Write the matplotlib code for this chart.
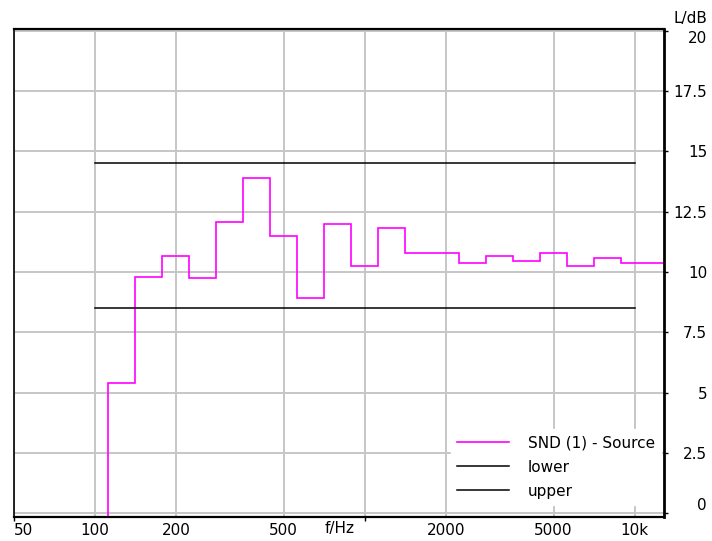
import numpy as np
import matplotlib
matplotlib.use('Agg')
import matplotlib.pyplot as plt

# Terzbaender (Mittenfrequenzen) und Pegel der Quelle
f_mitte = [100, 125, 160, 200, 250, 315, 400, 500, 630, 800, 1000, 1250,
           1600, 2000, 2500, 3150, 4000, 5000, 6300, 8000, 10000, 12500]
L_quelle = [-10, 5.38, 9.81, 10.65, 9.74, 12.06, 13.89, 11.49, 8.92, 11.99, 10.24, 11.84,
            10.80, 10.80, 10.37, 10.66, 10.44, 10.80, 10.24, 10.58, 10.39, 10.39]

# Toleranzgrenzen
f_grenze = [100, 10000]
L_lower = [8.5, 8.5]
L_upper = [14.5, 14.5]

x_ticks = [50, 100, 200, 500, 1000, 2000, 5000, 10000]
x_labels = ['50', '100', '200', '500', '', '2000', '5000', '10k']
y_ticks = [0, 2.5, 5, 7.5, 10, 12.5, 15, 17.5, 20]
y_labels = ['0', '2.5', '5', '7.5', '10', '12.5', '15', '17.5', '20']

plt.rcParams['font.family'] = 'DejaVu Sans'
plt.rcParams['font.size'] = 11

fig = plt.figure(figsize=(7.12, 5.41), dpi=100)
ax = fig.add_axes([0.019, 0.0449, 0.9136, 0.9009])

# Bandgrenzen aus den Mittenfrequenzen (Terz)
idx = np.arange(-10, -10 + len(f_mitte) + 1)
kanten = 1000 * 10 ** ((idx - 0.5) / 10)

ax.stairs(L_quelle, kanten, color='#ff00ff', lw=1.2, baseline=None, label='SND (1) - Source')
ax.plot(f_grenze, L_lower, color='black', lw=1.1, label='lower')
ax.plot(f_grenze, L_upper, color='black', lw=1.1, label='upper')

ax.set_xscale('log')
ax.set_xlim(50, 12830)
ax.set_ylim(-0.14, 20.05)

ax.set_xticks(x_ticks)
ax.set_xticklabels(x_labels)
ax.xaxis.set_minor_locator(matplotlib.ticker.NullLocator())
ax.set_yticks(y_ticks)
ax.set_yticklabels(y_labels)

ax.grid(True, color='#c6c6c6', lw=1.4)
ax.set_axisbelow(True)

ax.tick_params(axis='x', direction='out', length=3, width=1, pad=1.5, colors='black')
ax.tick_params(axis='y', left=False, labelleft=False, right=True, labelright=True,
               direction='out', length=3, width=1, pad=28)
for lab in ax.get_yticklabels():
    lab.set_horizontalalignment('right')

yt = ax.yaxis.get_major_ticks()
yt[0].label2.set_verticalalignment('bottom')
yt[-1].label2.set_verticalalignment('top')

# nur bei 50 und 1000 sichtbare Striche
xt = ax.xaxis.get_major_ticks()
for i, t in enumerate(xt):
    if x_ticks[i] not in (50, 1000):
        t.tick1line.set_visible(False)
xt[0].label1.set_horizontalalignment('left')

for s in ['top', 'bottom']:
    ax.spines[s].set_linewidth(1.6)
ax.spines['left'].set_linewidth(1.2)
ax.spines['right'].set_linewidth(2.0)

ax.text(0.525, -0.008, 'f/Hz', transform=ax.transAxes, ha='right', va='top')
fig.text(0.970, 0.965, 'L/dB', ha='center', va='center')

leg = ax.legend(loc='lower right', bbox_to_anchor=(1.0, 0.018), frameon=True,
                fancybox=False, framealpha=1, edgecolor='white', facecolor='white',
                handlelength=3.4, handletextpad=1.2, labelspacing=0.6, borderaxespad=0.2)

fig.savefig('out.png', dpi=100)
